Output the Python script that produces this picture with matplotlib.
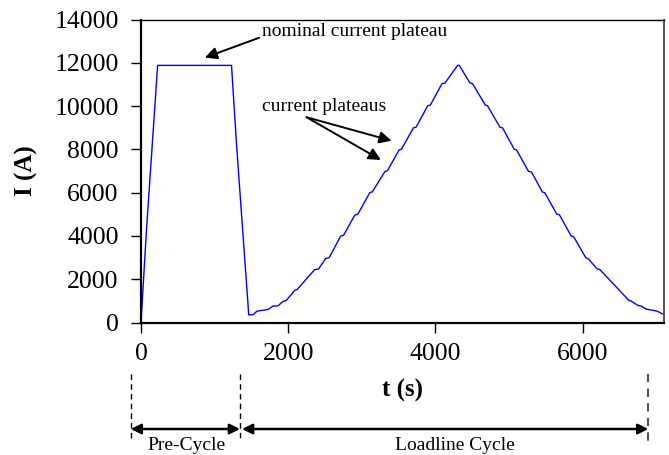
import matplotlib
matplotlib.use("Agg")
import matplotlib.pyplot as plt

plt.rcParams['font.family'] = ['Liberation Serif', 'DejaVu Serif']

# ---- data ----
t_pre = [0, 77, 226, 1230, 1297, 1464]
i_pre = [0, 4420, 11880, 11880, 8284, 356]

t_load = [1523, 1577, 1726, 1794, 1862, 1930, 1975, 2088, 2124, 2359, 2413,
          2508, 2558, 2712, 2753, 2905, 2947, 3109, 3145, 3313, 3349, 3507,
          3539, 3702, 3738, 3896, 3932, 4090, 4131, 4303, 4325, 4470, 4506,
          4678, 4709, 4877, 4913, 5071, 5103, 5265, 5306, 5455, 5487, 5650,
          5686, 5844, 5881, 6043, 6079, 6201, 6237, 6630, 6662, 6753, 6798,
          6865, 6969, 7014, 7082, 7100]
i_load = [356, 525, 602, 757, 772, 973, 1020, 1484, 1530, 2442, 2472,
          2952, 2998, 3987, 4033, 4960, 5007, 5996, 6041, 6970, 7016, 7975,
          8006, 8994, 9025, 10014, 10045, 11034, 11065, 11882, 11882, 11065, 11034,
          10045, 10014, 9025, 8994, 8006, 7975, 6986, 6955, 6028, 5996, 5007,
          4977, 4003, 3956, 2998, 2936, 2472, 2442, 1020, 988, 788, 757,
          618, 556, 525, 403, 390]

t_all = t_pre + t_load
i_all = i_pre + i_load

x_ticks = [0, 2000, 4000, 6000]
y_ticks = [0, 2000, 4000, 6000, 8000, 10000, 12000, 14000]

W, H = 669, 455
fig = plt.figure(figsize=(W / 100, H / 100), dpi=100)
ax = fig.add_axes([141 / W, 1 - 322.5 / H, (663.5 - 141) / W, (322.5 - 19.5) / H])

ax.plot(t_all, i_all, color='#0000FF', lw=1.0)
ax.set_xlim(0, 7100)
ax.set_ylim(0, 14000)
ax.set_xticks(x_ticks)
ax.set_yticks(y_ticks)
ax.tick_params(axis='both', direction='out', length=7, width=1, labelsize=18.5, colors='black')
ax.tick_params(axis='y', pad=9)
ax.tick_params(axis='x', pad=8)
for s in ['left', 'bottom']:
    ax.spines[s].set_linewidth(1.6)
ax.spines['top'].set_linewidth(1.0)
ax.spines['right'].set_linewidth(1.4)
ax.spines['right'].set_color('#555555')

fig.text(403 / W, 1 - 390 / H, 't (s)', ha='center', va='center', fontsize=18, fontweight='bold')
fig.text(26.5 / W, 1 - 171 / H, 'I (A)', ha='center', va='center', fontsize=18,
         fontweight='bold', rotation=90)

# annotations on the curve
ax.annotate('nominal current plateau', xy=(869, 12239), xytext=(1643, 13440),
            ha='left', va='center', fontsize=14,
            arrowprops=dict(arrowstyle='-|>', color='black', lw=1.4, mutation_scale=18,
                            shrinkA=0, shrinkB=0, relpos=(0, 0.2)))
ax.text(1639, 9975, 'current plateaus', ha='left', va='center', fontsize=14)
for tip in [(3404, 8398), (3259, 7511)]:
    ax.annotate('', xy=tip, xytext=(2250, 9484),
                arrowprops=dict(arrowstyle='-|>', color='black', lw=1.4, mutation_scale=18,
                                shrinkA=0, shrinkB=0))

# phase markers below the axis
def fx(px):
    return px / W

def fy(py):
    return 1 - py / H

for xp, col in [(130.7, 'black'), (240, 'black'), (648.3, '#555555')]:
    fig.add_artist(plt.Line2D([fx(xp), fx(xp)], [fy(374), fy(441)], transform=fig.transFigure,
                              color=col, lw=1.0 if col == 'black' else 1.5, ls=(0, (4, 3))))

for x0, x1 in [(130.7, 240), (242, 648.3)]:
    fig.add_artist(matplotlib.patches.FancyArrowPatch((fx(x0), fy(429)), (fx(x1), fy(429)),
                                                      transform=fig.transFigure,
                                                      arrowstyle='<|-|>', mutation_scale=15,
                                                      color='black', lw=1.8,
                                                      shrinkA=0, shrinkB=0))

fig.text(fx(186.7), fy(450), 'Pre-Cycle', ha='center', va='baseline', fontsize=14)
fig.text(fx(455), fy(450), 'Loadline Cycle', ha='center', va='baseline', fontsize=14)

fig.savefig('out.png', dpi=100)
